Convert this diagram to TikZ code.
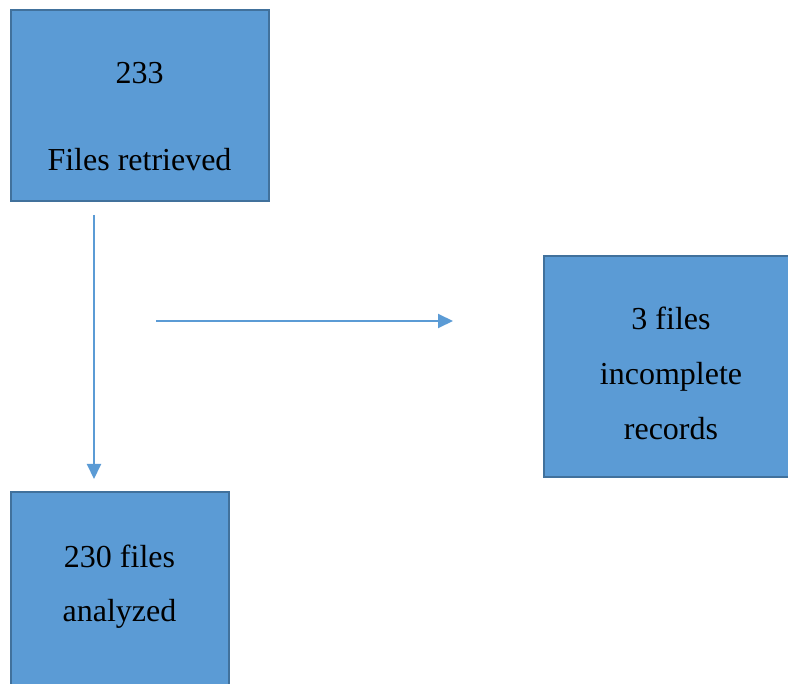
\documentclass[tikz,border=0pt]{standalone}
\usepackage{fontspec}
\setmainfont{Liberation Serif}
\usetikzlibrary{arrows.meta}
\definecolor{boxfill}{HTML}{5B9BD5}
\definecolor{boxline}{HTML}{41719C}
\definecolor{arrowc}{HTML}{5B9BD5}
\begin{document}
\begin{tikzpicture}[x=1pt,y=-1pt,
  box/.style={draw=boxline,fill=boxfill,line width=2pt,rectangle,inner sep=0pt},
  txt/.style={anchor=base,inner sep=0pt,font=\fontsize{32}{38}\selectfont},
  flow/.style={draw=arrowc,line width=2pt,-{Triangle[length=15pt,width=14pt]}}]
\useasboundingbox (0,0) rectangle (788,684);
\clip (0,0) rectangle (788,684);
\node[box,minimum width=258pt,minimum height=191pt] (b1) at (139.5,106) {};
\node[box,minimum width=254pt,minimum height=221pt] (b2) at (671,367) {};
\node[box,minimum width=218pt,minimum height=220pt] (b3) at (119.5,602) {};
\node[txt] (t1a) at (139.5,84) {233};
\node[txt] (t1b) at (139.5,171) {Files retrieved};
\node[txt] (t2a) at (671,330) {3 files};
\node[txt] (t2b) at (671,385) {incomplete};
\node[txt] (t2c) at (671,440) {records};
\node[txt] (t3a) at (119.5,568) {230 files};
\node[txt] (t3b) at (119.5,622) {analyzed};
\coordinate (v1) at (94,215);
\coordinate (v2) at (94,479);
\coordinate (h1) at (156,321);
\coordinate (h2) at (453,321);
\draw[flow] (v1) -- (v2);
\draw[flow] (h1) -- (h2);
\end{tikzpicture}
\end{document}
